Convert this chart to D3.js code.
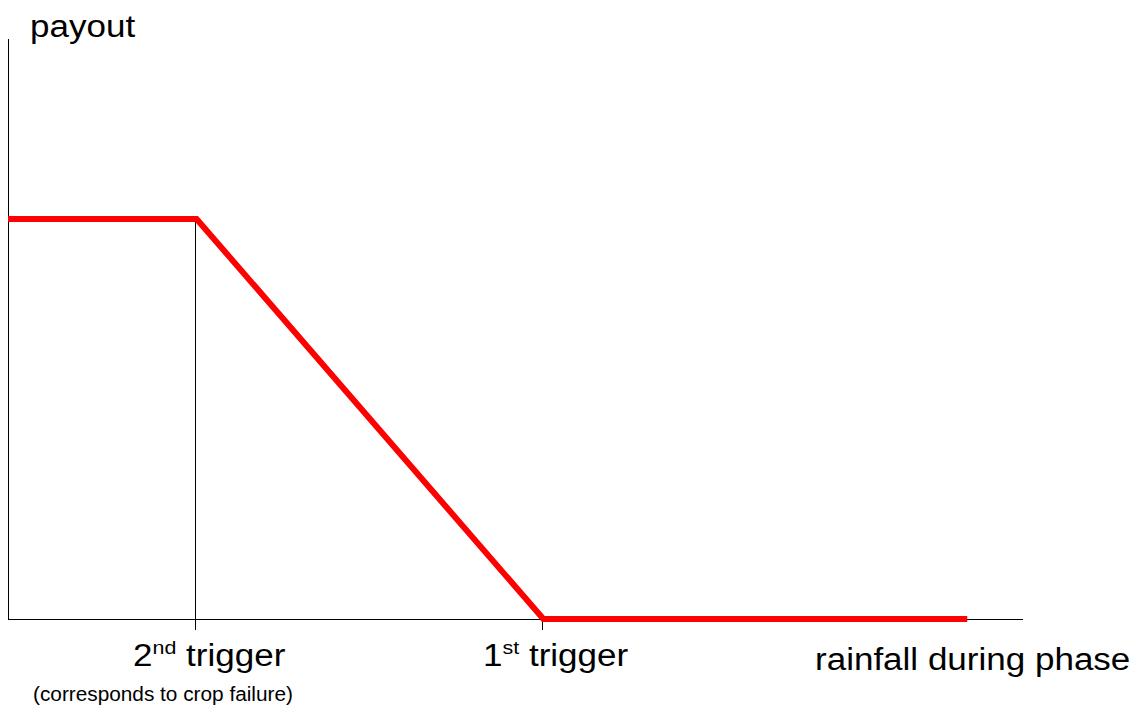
<!DOCTYPE html>
<html>
<head>
<meta charset="utf-8">
<script src="https://cdn.jsdelivr.net/npm/d3@7"></script>
<style>
  body { margin: 0; background: #fff; }
  text { font-family: "Liberation Sans", Arial, sans-serif; fill: #000; }
</style>
</head>
<body>
<div id="chart"></div>
<script>
// Schematic payout curve data
var rainfall = [0, 18.6, 52.8, 94.6];
var payout = [1, 1, 0, 0];
var triggerValues = [18.45, 52.7];
var triggerNames = [["2", "nd", " trigger"], ["1", "st", " trigger"]];

var svgWidth = 1138;
var svgHeight = 711;

var svg = d3.select("#chart")
  .append("svg")
  .attr("width", svgWidth)
  .attr("height", svgHeight);

var xScale = d3.scaleLinear()
  .domain([0, 100])
  .range([8, 1022]);

var yScale = d3.scaleLinear()
  .domain([0, 1.4525])
  .range([619, 38]);

// Axes
var bottomAxis = d3.axisBottom(xScale)
  .tickValues(triggerValues)
  .tickSize(11)
  .tickSizeOuter(0)
  .tickFormat("");

var leftAxis = d3.axisLeft(yScale)
  .tickValues([])
  .tickSizeOuter(0);

var xAxis = svg.append("g")
  .attr("transform", `translate(0, ${yScale(0)})`)
  .call(bottomAxis);
xAxis.selectAll("path, line").attr("stroke", "#000").attr("shape-rendering", "crispEdges");

var yAxis = svg.append("g")
  .attr("transform", `translate(${xScale(0)}, 0)`)
  .call(leftAxis);
yAxis.selectAll("path").attr("stroke", "#000").attr("shape-rendering", "crispEdges");

// vertical guide at 2nd trigger
svg.append("line")
  .attr("x1", xScale(triggerValues[0]))
  .attr("x2", xScale(triggerValues[0]))
  .attr("y1", yScale(payout[0]))
  .attr("y2", yScale(0))
  .attr("stroke", "#000")
  .attr("shape-rendering", "crispEdges");

// payout curve
var line = d3.line()
  .x((d, i) => xScale(rainfall[i]))
  .y(d => yScale(d));

svg.append("path")
  .datum(payout)
  .attr("d", line)
  .attr("fill", "none")
  .attr("stroke", "#ff0000")
  .attr("stroke-width", 6)
  .attr("stroke-linejoin", "miter");

// Labels (original text looks horizontally stretched)
function addLabel(x, y, size, sx) {
  return svg.append("text")
    .attr("transform", `translate(${x}, ${y}) scale(${sx}, 1)`)
    .attr("font-size", size);
}

addLabel(30, 37, 31, 1.13).text("payout");
addLabel(815, 670, 31, 1.13).text("rainfall during phase");

var triggerX = [133, 483];
triggerNames.forEach(function(parts, i) {
  var t = addLabel(triggerX[i], 666, 31, 1.13);
  t.append("tspan").text(parts[0]);
  t.append("tspan").attr("font-size", 19).attr("dy", -12).text(parts[1]);
  t.append("tspan").attr("dy", 12).text(parts[2]);
});

addLabel(33, 701, 20, 1.04).text("(corresponds to crop failure)");
</script>
</body>
</html>
